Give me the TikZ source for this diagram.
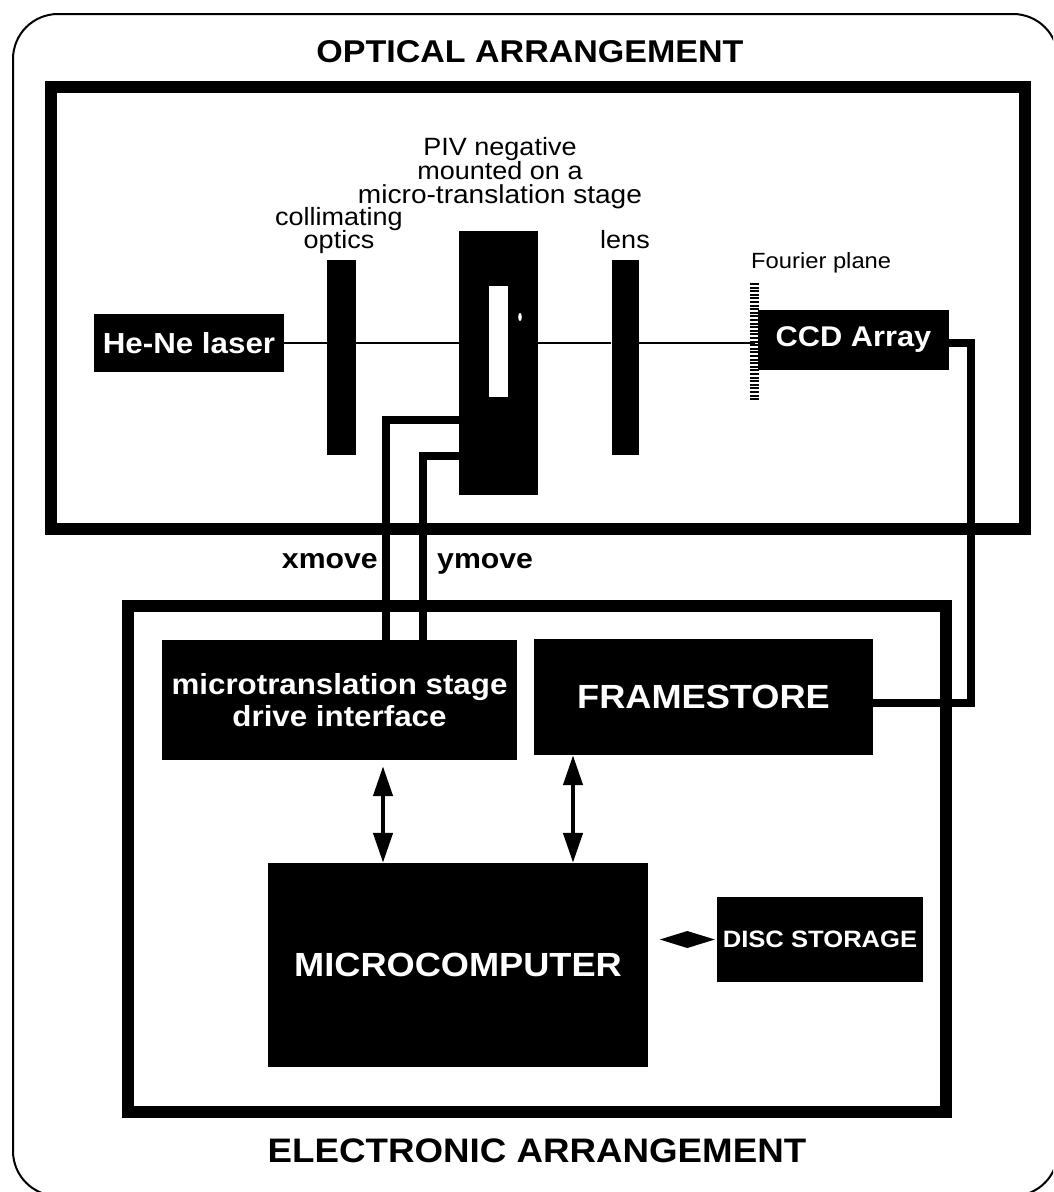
\documentclass[tikz,border=0pt]{standalone}
\usepackage{fontspec}
\setmainfont{Liberation Sans}[FakeStretch=1.08]
\usetikzlibrary{arrows.meta}
\newcommand\fsz[2]{\fontsize{#1}{#2}\selectfont}
\begin{document}
\begin{tikzpicture}[x=1pt,y=-1pt,
  box/.style={fill=black,draw=none,text=white,inner sep=0pt,align=center},
  bar/.style={fill=black,draw=none,inner sep=0pt},
  frame/.style={draw=black,line width=12pt},
  cable/.style={draw=black,line width=8pt},
  beam/.style={draw=black,line width=2pt},
  dbl/.style={line width=4.5pt,{Triangle[length=30pt,width=19pt]}-{Triangle[length=30pt,width=19pt]}},
  lbl/.style={inner sep=0pt},
  reg/.style={lbl,font=\fsz{25}{22}},
  bld/.style={lbl,font=\fsz{28}{28}\bfseries},
]
\useasboundingbox (0,0) rectangle (1053,1192);
\clip (0,0) rectangle (1053,1192);
\fill[white] (0,0) rectangle (1053,1192);

% outer rounded border
\draw[line width=2pt,rounded corners=45pt] (13,14) rectangle (1058,1196);

% frames
\draw[frame] (51,87) rectangle (1025,529);
\draw[frame] (128,606) rectangle (946,1112);

% titles
\node[lbl,font=\fsz{31.5}{32}\bfseries,anchor=base] (t1) at (530,62) {OPTICAL ARRANGEMENT};
\node[lbl,font=\fsz{34}{34}\bfseries,anchor=base] (t2) at (537,1162) {ELECTRONIC ARRANGEMENT};

% optical components
\node[box,minimum width=190pt,minimum height=58pt,font=\fsz{29}{30}\bfseries] (laser) at (189,343) {He-Ne laser};
\node[bar,minimum width=29pt,minimum height=195pt] (coll) at (341.5,357.5) {};
\node[bar,minimum width=79pt,minimum height=264pt] (piv) at (498.5,363) {};
\fill[white] (489,286) rectangle (508,397);
\fill[white] (520,317) ellipse (1.8pt and 4pt);
\node[bar,minimum width=27pt,minimum height=195pt] (lens) at (625,357.5) {};
\node[box,minimum width=191pt,minimum height=60pt,font=\fsz{28.5}{30}\bfseries] (ccd) at (853.5,340) {CCD Array};
\coordinate (fpt) at (754.5,283);
\coordinate (fpb) at (754.5,400);
\draw[line width=9pt,dash pattern=on 2pt off 1.6pt] (fpt) -- (fpb);

% beam
\draw[beam] (laser.east) -- (laser.east -| coll.west);
\draw[beam] (laser.east -| coll.east) -- (laser.east -| piv.west);
\draw[beam] (laser.east -| piv.east) -- (laser.east -| lens.west);
\draw[beam] (laser.east -| lens.east) -- (laser.east -| fpt);

% optical labels
\node[reg,anchor=base] (lc1) at (339,225) {collimating};
\node[reg,anchor=base] (lc2) at (339,248) {optics};
\node[reg,anchor=base] (lp1) at (500,155) {PIV negative};
\node[reg,anchor=base] (lp2) at (500,179) {mounted on a};
\node[reg,anchor=base,font=\fsz{26}{22}] (lp3) at (500,203) {micro-translation stage};
\node[reg,anchor=base] (ll) at (625,248) {lens};
\node[lbl,font=\fsz{22}{22},anchor=base west] (lf) at (751,268) {Fourier plane};

% electronic components
\node[box,minimum width=355pt,minimum height=120pt,font=\fsz{29}{32}\bfseries] (drive) at (339.5,700) {microtranslation stage\\drive interface};
\node[box,minimum width=339pt,minimum height=116pt,font=\fsz{33.5}{34}\bfseries] (frames) at (703.5,697) {FRAMESTORE};
\node[box,minimum width=380pt,minimum height=204pt,font=\fsz{33.5}{34}\bfseries] (micro) at (458,965) {MICROCOMPUTER};
\node[box,minimum width=206pt,minimum height=85pt,font=\fsz{23.7}{24}\bfseries] (disc) at (820,939.5) {DISC STORAGE};

% cables
\coordinate (c1) at (386,420);
\coordinate (c2) at (423,456);
\coordinate (c3) at (971,703);
\draw[cable] (c1 -| piv.west) -- (c1) -- (c1 |- drive.north);
\draw[cable] (c2 -| piv.west) -- (c2) -- (c2 |- drive.north);
\draw[cable] ([yshift=-3pt]ccd.east) -- ([yshift=-3pt]ccd.east -| c3) -- (c3) -- (c3 -| frames.east);

\node[bld,anchor=base east] (xm) at (378,568) {xmove};
\node[bld,anchor=base west] (ym) at (437,568) {ymove};

% arrows
\coordinate (a1) at (383,0);
\coordinate (a2) at (573,0);
\draw[dbl] ([yshift=-6pt]drive.south -| a1) -- (micro.north -| a1);
\draw[dbl] (frames.south -| a2) -- (micro.north -| a2);

% diamond link
\fill ([xshift=-2pt]disc.west) -- ++(-27.5,8.5) -- ++(-27.5,-8.5) -- ++(27.5,-8.5) -- cycle;
\end{tikzpicture}
\end{document}
